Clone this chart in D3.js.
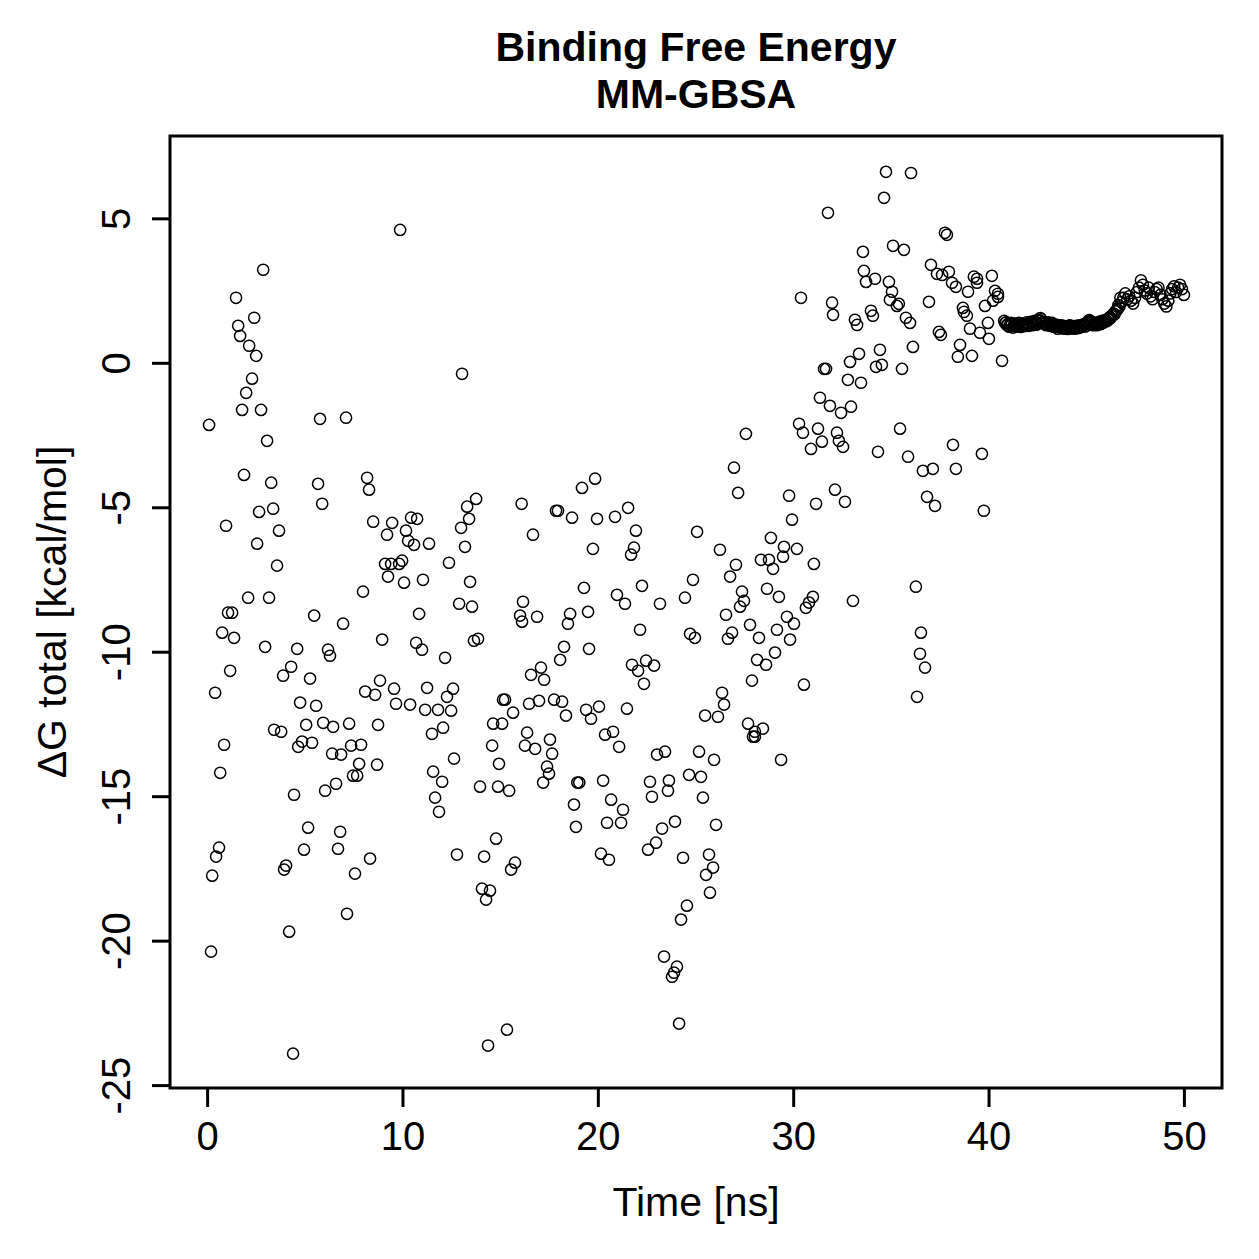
<!DOCTYPE html>
<html>
<head>
<meta charset="utf-8">
<script src="https://cdn.jsdelivr.net/npm/d3@7"></script>
<style>
    body { margin: 0; background: #fff; }
    text { font-family: "Liberation Sans", Arial, Helvetica, sans-serif; fill: #000; }
</style>
</head>
<body>
<script>
// scattered part of the trajectory (0 - 41 ns)
const timeNs = [
    9.88, 2.87, 1.48, 2.41, 1.59, 1.69, 2.15, 2.51, 13.05, 2.30,
    2.00, 1.79, 2.76, 5.78, 7.11, 0.10, 3.07,
    1.89, 3.28, 5.68, 8.19, 8.29, 3.38, 2.66, 5.89, 0.97, 3.68,
    2.56, 3.58, 8.50, 9.47, 9.21, 10.44, 10.75, 10.18, 10.29, 10.59,
    11.36, 13.77, 13.31, 13.41, 13.00, 13.20, 16.10, 9.11, 9.42, 9.83,
    9.98, 9.26, 10.08, 11.05, 12.38, 13.46, 2.10, 3.17, 7.98, 1.07,
    1.28, 5.48, 6.96, 10.85, 12.90, 13.56, 16.17, 16.02, 16.12, 0.77,
    1.38, 2.97, 4.61, 6.19, 6.29, 8.96, 10.70, 11.00, 12.18, 13.66,
    13.87, 1.18, 4.30, 3.89, 5.27, 0.41, 8.09, 8.60, 8.85, 9.57,
    9.67, 10.39, 11.26, 12.59, 12.28, 11.16, 11.82, 12.49, 15.15, 15.25,
    15.66, 4.76, 5.58, 5.07, 5.94, 6.45, 7.27, 8.75, 3.43, 3.79,
    0.87, 4.86, 4.66, 5.37, 6.40, 6.86, 7.37, 7.88, 11.51, 12.08,
    14.64, 15.10, 14.59, 12.64, 14.94, 7.78, 8.70, 11.57, 0.67,
    4.45, 6.04, 6.60, 7.47, 7.68, 12.03, 11.67, 11.87, 13.97, 14.89,
    15.46, 5.17, 6.81, 4.96, 6.70, 0.61, 0.46, 0.26, 4.04, 3.94,
    7.57, 8.34, 7.16, 4.20, 0.20, 4.40, 12.79, 14.18, 14.79, 15.76,
    15.56, 14.07, 14.48, 14.28, 15.35, 14.38,
    30.91, 32.55, 26.97, 27.18, 29.79, 31.17, 32.14, 32.65, 29.94, 19.19,
    19.86, 17.86, 17.96, 18.68, 19.96, 20.88, 21.55, 16.68, 19.75, 21.95,
    21.85, 21.70, 25.08, 26.25, 28.86, 29.53, 30.19, 29.48, 28.35, 28.76,
    28.97, 31.06, 27.07, 26.77, 19.29, 20.98, 21.39, 22.26, 23.18, 24.87,
    24.46, 27.38, 27.48, 27.28, 28.66, 29.27, 31.01, 30.81, 30.65, 33.06,
    16.89, 18.58, 18.47, 19.50, 22.16, 26.56, 27.79, 28.25, 29.17, 29.68,
    30.04, 29.84, 24.72, 24.97, 26.87, 26.66, 18.27, 18.07, 19.55, 17.09,
    16.58, 17.25, 21.75, 22.06, 22.47, 22.88, 22.36, 28.15, 28.61, 29.07,
    27.89, 30.55, 26.36, 26.46, 26.15, 25.49, 27.69, 28.04, 28.45, 27.94,
    28.04, 16.48, 16.99, 17.76, 18.17, 18.37, 19.40, 20.06, 19.65, 21.49,
    16.38, 16.27, 16.79, 17.55, 17.66, 20.37, 20.78, 21.09, 23.03, 23.44,
    25.18, 25.95, 29.38, 17.40,
    17.50, 17.20, 18.95, 19.05, 20.27, 22.67, 23.64, 23.59, 22.77, 24.67,
    25.28, 25.38, 18.78, 18.88, 20.68, 21.29, 20.47, 21.19, 23.29, 23.95,
    26.05, 22.98, 22.57, 24.36, 20.16, 20.57, 25.69, 25.90, 25.54, 25.74,
    24.56, 24.26, 23.39, 24.05, 23.90, 23.80, 24.16,
    31.78, 33.57, 33.62, 33.73, 34.19, 30.40, 31.99, 32.04, 33.16, 33.27,
    33.98, 34.08, 33.37, 32.91, 31.58, 31.68, 32.80, 33.47, 31.37, 31.88,
    32.45, 32.96, 27.58, 30.30, 30.50, 31.27, 32.24, 32.34, 31.47,
    34.75, 36.03, 34.65, 37.77, 37.87, 35.11, 35.67, 37.05, 37.36, 37.62,
    37.97, 38.13, 38.33, 34.90, 35.06, 34.95, 35.31, 35.41, 35.77, 35.98,
    36.95, 39.25, 39.41, 39.41, 40.17, 38.95, 38.69, 38.74, 38.89, 40.33,
    40.48, 40.48, 40.23, 39.82, 39.05, 39.56, 39.97, 40.02, 37.46, 37.56,
    34.44, 36.13, 38.54, 38.43, 39.15, 40.69, 34.24, 34.54, 35.57, 35.47,
    38.18, 34.34, 35.88, 39.66,
    36.64, 37.15, 38.33, 36.85, 37.26, 39.76, 36.28, 36.54, 36.49, 36.75,
    36.34
];

const deltaG = [
    4.60, 3.22, 2.25, 1.56, 1.28, 0.93, 0.59, 0.24, -0.38, -0.55,
    -1.04, -1.63, -1.63, -1.94, -1.90, -2.15, -2.70,
    -3.88, -4.15, -4.19, -3.98, -4.39, -5.05, -5.16, -4.88, -5.64, -5.81,
    -6.26, -7.02, -5.50, -5.54, -5.95, -5.36, -5.40, -5.81, -6.16, -6.30,
    -6.26, -4.71, -4.98, -5.40, -5.71, -6.37, -4.88, -6.96, -6.96, -6.96,
    -6.85, -7.40, -7.61, -7.51, -6.92, -7.58, -8.13, -8.13, -7.92, -8.65,
    -8.65, -8.75, -9.03, -8.69, -8.34, -8.44, -8.27, -8.75, -8.96, -9.34,
    -9.52, -9.83, -9.90, -9.93, -10.14, -9.58, -9.69, -9.93, -10.21, -9.62,
    -9.55, -10.66, -10.52, -10.83, -10.93, -11.42, -11.38, -11.49, -11.00, -11.28,
    -11.80, -11.83, -11.25, -11.28, -11.56, -12.01, -12.01, -12.04, -11.66, -11.66,
    -12.11, -11.76, -11.87, -12.53, -12.46, -12.60, -12.49, -12.53, -12.70, -12.77,
    -13.22, -13.11, -13.29, -13.15, -13.53, -13.56, -13.25, -13.22, -12.84, -12.63,
    -12.49, -12.49, -13.25, -13.70, -13.88, -13.88, -13.91, -14.15, -14.19,
    -14.95, -14.81, -14.57, -14.29, -14.29, -14.50, -15.05, -15.54, -14.67, -14.67,
    -14.81, -16.09, -16.23, -16.85, -16.82, -16.78, -17.09, -17.75, -17.40, -17.54,
    -17.68, -17.16, -19.07, -19.69, -20.38, -23.91, -17.02, -17.09, -16.47, -17.30,
    -17.54, -18.20, -18.27, -18.58, -23.08, -23.63,
    -2.98, -2.91, -3.63, -4.50, -4.60, -4.88, -4.39, -4.81, -5.43, -4.33,
    -4.01, -5.12, -5.12, -5.36, -5.40, -5.33, -5.02, -5.95, -6.44, -5.81,
    -6.40, -6.64, -5.85, -6.47, -6.06, -6.37, -6.44, -6.71, -6.82, -6.82,
    -7.13, -6.96, -6.99, -7.40, -7.79, -8.03, -8.34, -7.72, -8.34, -7.51,
    -8.13, -7.92, -8.24, -8.44, -7.82, -8.10, -8.10, -8.30, -8.48, -8.24,
    -8.79, -8.69, -9.03, -8.62, -9.24, -8.72, -9.07, -9.52, -9.24, -8.79,
    -9.03, -9.58, -9.38, -9.52, -9.34, -9.55, -9.83, -10.28, -9.90, -10.55,
    -10.80, -10.97, -10.45, -10.66, -10.31, -10.48, -11.11, -10.28, -10.45, -10.03,
    -11.00, -11.14, -11.42, -11.83, -12.25, -12.21, -12.49, -12.77, -12.66, -12.94,
    -12.94, -11.80, -11.70, -11.66, -11.73, -12.21, -12.01, -11.90, -12.32, -11.97,
    -12.80, -13.25, -13.36, -13.04, -13.53, -12.87, -12.77, -13.29, -13.56, -13.46,
    -13.46, -13.74, -13.74, -13.98,
    -14.22, -14.53, -14.53, -14.53, -14.46, -14.50, -14.46, -14.81, -15.02, -14.26,
    -14.33, -15.05, -15.29, -16.06, -15.12, -15.47, -15.92, -15.92, -16.12, -15.88,
    -15.99, -16.61, -16.85, -17.13, -16.99, -17.20, -17.02, -17.47, -17.72, -18.34,
    -18.79, -19.27, -20.55, -20.90, -21.11, -21.25, -22.87,
    5.19, 3.84, 3.18, 2.80, 2.91, 2.25, 2.08, 1.66, 1.49, 1.31,
    1.80, 1.63, 0.31, 0.03, -0.21, -0.21, -0.59, -0.69, -1.21, -1.49,
    -1.73, -1.52, -2.46, -2.11, -2.42, -2.28, -2.42, -2.70, -2.73,
    6.61, 6.57, 5.71, 4.50, 4.43, 4.05, 3.91, 3.39, 3.08, 3.04,
    3.15, 2.77, 2.63, 2.80, 2.46, 2.18, 1.97, 2.04, 1.56, 1.38,
    2.11, 2.98, 2.91, 2.77, 3.01, 2.46, 1.90, 1.76, 1.63, 2.49,
    2.39, 2.28, 2.15, 1.97, 1.18, 1.04, 1.38, 0.83, 1.07, 0.97,
    0.45, 0.55, 0.62, 0.21, 0.24, 0.07, -0.14, -0.07, -0.21, -2.28,
    -2.84, -3.08, -3.25, -3.15,
    -3.74, -3.67, -3.67, -4.64, -4.95, -5.12, -7.75, -9.34, -10.07, -10.55,
    -11.56
];

// dense, equilibrated stretch (41 - 50 ns), read at every 0.05 ns
const bandTime = [
    40.8, 40.85, 40.9, 40.95, 41.0, 41.05, 41.1, 41.15, 41.2, 41.25,
    41.3, 41.35, 41.4, 41.45, 41.5, 41.55, 41.6, 41.65, 41.7, 41.75,
    41.8, 41.85, 41.9, 41.95, 42.0, 42.05, 42.1, 42.15, 42.2, 42.25,
    42.3, 42.35, 42.4, 42.45, 42.5, 42.55, 42.6, 42.65, 42.7, 42.75,
    42.8, 42.85, 42.9, 42.95, 43.0, 43.05, 43.1, 43.15, 43.2, 43.25,
    43.3, 43.35, 43.4, 43.45, 43.5, 43.55, 43.6, 43.65, 43.7, 43.75,
    43.8, 43.85, 43.9, 43.95, 44.0, 44.05, 44.1, 44.15, 44.2, 44.25,
    44.3, 44.35, 44.4, 44.45, 44.5, 44.55, 44.6, 44.65, 44.7, 44.75,
    44.8, 44.85, 44.9, 44.95, 45.0, 45.05, 45.1, 45.15, 45.2, 45.25,
    45.3, 45.35, 45.4, 45.45, 45.5, 45.55, 45.6, 45.65, 45.7, 45.75,
    45.8, 45.85, 45.9, 45.95, 46.0, 46.05, 46.1, 46.15, 46.2, 46.25,
    46.3, 46.35, 46.4, 46.45, 46.5, 46.55, 46.6, 46.65, 46.7, 46.75,
    46.8, 46.9, 47.0, 47.1, 47.2, 47.3, 47.4, 47.5, 47.6, 47.7,
    47.8, 47.9, 48.0, 48.1, 48.2, 48.3, 48.4, 48.5, 48.6, 48.7,
    48.8, 48.9, 49.0, 49.1, 49.2, 49.3, 49.4, 49.5, 49.6, 49.7,
    49.8, 49.9, 50.0
];
const bandDG = [
    1.45, 1.38, 1.40, 1.30, 1.35, 1.25, 1.30, 1.38, 1.35, 1.22,
    1.28, 1.36, 1.32, 1.25, 1.30, 1.38, 1.36, 1.24, 1.28, 1.35,
    1.33, 1.27, 1.30, 1.40, 1.35, 1.28, 1.30, 1.42, 1.38, 1.30,
    1.33, 1.45, 1.40, 1.32, 1.36, 1.48, 1.45, 1.55, 1.50, 1.40,
    1.42, 1.35, 1.38, 1.30, 1.33, 1.40, 1.36, 1.28, 1.30, 1.38,
    1.34, 1.24, 1.28, 1.32, 1.25, 1.18, 1.30, 1.24, 1.22, 1.30,
    1.27, 1.18, 1.20, 1.26, 1.25, 1.17, 1.22, 1.30, 1.28, 1.19,
    1.20, 1.27, 1.25, 1.18, 1.22, 1.29, 1.27, 1.21, 1.30, 1.25,
    1.25, 1.33, 1.32, 1.26, 1.35, 1.40, 1.42, 1.48, 1.45, 1.40,
    1.38, 1.30, 1.33, 1.36, 1.38, 1.30, 1.35, 1.42, 1.40, 1.34,
    1.45, 1.38, 1.42, 1.47, 1.48, 1.44, 1.52, 1.50, 1.58, 1.55,
    1.62, 1.66, 1.70, 1.68, 1.78, 1.82, 1.85, 2.00, 1.95, 2.25,
    2.10, 2.25, 2.40, 2.20, 2.30, 2.15, 2.05, 2.25, 2.45, 2.60,
    2.85, 2.70, 2.50, 2.40, 2.60, 2.30, 2.20, 2.45, 2.55, 2.60,
    2.35, 2.20, 2.05, 1.95, 2.15, 2.40, 2.55, 2.65, 2.45, 2.60,
    2.70, 2.55, 2.35
];

const xTicks = [0, 10, 20, 30, 40, 50];
const yTicks = [-25, -20, -15, -10, -5, 0, 5];
const titleLines = ["Binding Free Energy", "MM-GBSA"];
const xLabel = "Time [ns]";
const yLabel = "ΔG total [kcal/mol]";

let width = 1259;
let height = 1259;
let margin = { left: 170, right: 37, top: 136, bottom: 171 };

let points = timeNs.map((t, i) => ({ t: t, g: deltaG[i] }))
    .concat(bandTime.map((t, i) => ({ t: t, g: bandDG[i] })));

let x = d3.scaleLinear()
    .domain([-1.9, 51.95])
    .range([margin.left, width - margin.right]);
let y = d3.scaleLinear()
    .domain([-25.1, 7.85])
    .range([height - margin.bottom, margin.top]);

let svg = d3.select("body").append("svg")
    .attr("width", width)
    .attr("height", height);

svg.append("rect").attr("width", width).attr("height", height).attr("fill", "#fff");

// points
svg.append("g")
    .selectAll("circle")
    .data(points)
    .enter().append("circle")
    .attr("cx", (d) => x(d.t))
    .attr("cy", (d) => y(d.g))
    .attr("r", 5.6)
    .attr("fill", "none")
    .attr("stroke", "#000")
    .attr("stroke-width", 1.5);

// box
svg.append("rect")
    .attr("x", margin.left)
    .attr("y", margin.top)
    .attr("width", width - margin.left - margin.right)
    .attr("height", height - margin.top - margin.bottom)
    .attr("fill", "none")
    .attr("stroke", "#000")
    .attr("stroke-width", 3);

// R style labels use a plain hyphen for negatives
let fmt = (d) => String(d);
let xAxis = d3.axisBottom(x).tickValues(xTicks).tickSize(19).tickFormat(fmt);
let yAxis = d3.axisLeft(y).tickValues(yTicks).tickSize(18).tickFormat(fmt);

let gx = svg.append("g")
    .attr("transform", `translate(0,${height - margin.bottom})`)
    .call(xAxis);
gx.select(".domain").remove();
gx.selectAll(".tick line").attr("stroke-width", 3);
gx.selectAll(".tick text")
    .attr("y", 62).attr("dy", null)
    .attr("font-size", 40)
    .attr("font-family", "Liberation Sans, Arial, sans-serif");

let gy = svg.append("g")
    .attr("transform", `translate(${margin.left},0)`)
    .call(yAxis);
gy.select(".domain").remove();
gy.selectAll(".tick line").attr("stroke-width", 3);
gy.selectAll(".tick text")
    .attr("transform", "rotate(-90)")
    .attr("x", 0).attr("y", -40).attr("dy", null)
    .attr("text-anchor", "middle")
    .attr("font-size", 40)
    .attr("font-family", "Liberation Sans, Arial, sans-serif");

let midX = (margin.left + width - margin.right) / 2;
let midY = (margin.top + height - margin.bottom) / 2;

svg.selectAll(".title")
    .data(titleLines)
    .enter().append("text")
    .attr("class", "title")
    .attr("x", midX)
    .attr("y", (d, i) => 61 + i * 47)
    .attr("text-anchor", "middle")
    .attr("font-weight", "bold")
    .attr("font-size", 41)
    .text((d) => d);

svg.append("text")
    .attr("x", midX)
    .attr("y", 1216)
    .attr("text-anchor", "middle")
    .attr("font-size", 41)
    .text(xLabel);

svg.append("text")
    .attr("transform", `translate(66,${midY}) rotate(-90)`)
    .attr("text-anchor", "middle")
    .attr("font-size", 41)
    .text(yLabel);
</script>
</body>
</html>
